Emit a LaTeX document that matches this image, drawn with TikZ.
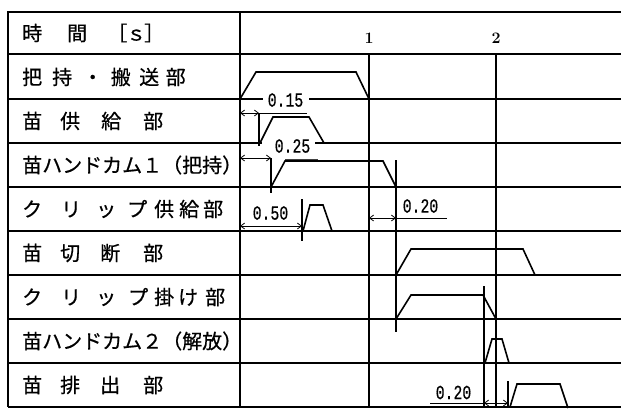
\documentclass[tikz,border=0pt]{standalone}
\usepackage{fontspec}
\newfontfamily\jp[FakeBold=0.6]{Noto Sans CJK JP}
\newfontfamily\numfont[FakeBold=0.5]{Liberation Mono}
\usetikzlibrary{arrows.meta}
\newcommand\condnum[1]{\scalebox{0.74}[1]{#1}}
\begin{document}
\begin{tikzpicture}[x=1pt,y=-1pt,
  grid/.style={line width=1.4pt},
  border/.style={line width=1.8pt},
  wave/.style={line width=1.6pt,line join=miter},
  dim/.style={line width=0.8pt},
  dimarrow/.style={dim,{Straight Barb[length=4pt,width=6pt]}-{Straight Barb[length=4pt,width=6pt]}},
  lbl/.style={anchor=west,inner sep=0pt,font=\jp\fontsize{20pt}{20pt}\selectfont},
  numlbl/.style={inner sep=0pt,font=\numfont\fontsize{20pt}{20pt}\selectfont},
  ticklbl/.style={inner sep=0pt,font=\bfseries\fontsize{16pt}{16pt}\selectfont}]
\useasboundingbox (0,0) rectangle (621,408);
\fill[white] (0,0) rectangle (621,408);
% table frame
\draw[border] (621,12) -- (8,12) -- (8,407);
\draw[border] (240,12) -- (240,407);
\draw[grid] (8,54) -- (621,54);
\draw[grid] (8,99) -- (263,99);
\draw[grid] (309,99) -- (621,99);
\draw[grid] (8,143) -- (262,143);
\draw[grid] (315,143) -- (621,143);
\foreach \yy in {187,231,275,319,363}{\draw[grid] (8,\yy) -- (621,\yy);}
\draw[grid] (8,407) -- (621,407);
% time lines
\draw[grid] (369,54) -- (369,407);
\draw[grid] (496,54) -- (496,407);
\node[ticklbl] (t1) at (369,38) {1};
\node[ticklbl] (t2) at (496,38) {2};
% labels
\node[lbl] (h0) at (22,33) {時\hspace{25pt}間\hspace{20pt}［\hspace{-1pt}ｓ\hspace{-2pt}］};
\node[lbl] (r1) at (22,77) {把\hspace{10pt}持\hspace{10.5pt}・\hspace{8pt}搬\hspace{8.5pt}送\hspace{6.5pt}部};
\node[lbl] (r2) at (22,121) {苗\hspace{18pt}供\hspace{21pt}給\hspace{22pt}部};
\node[lbl] (r3) at (22,165) {苗ハンドカム１（把持）};
\node[lbl] (r4) at (22,209) {ク\hspace{19pt}リ\hspace{15pt}ッ\hspace{11pt}プ\hspace{7pt}供\hspace{5pt}給\hspace{4pt}部};
\node[lbl] (r5) at (22,253) {苗\hspace{18pt}切\hspace{20pt}断\hspace{23pt}部};
\node[lbl] (r6) at (22,297) {ク\hspace{19pt}リ\hspace{15pt}ッ\hspace{12pt}プ\hspace{6pt}掛\hspace{4pt}け\hspace{7pt}部};
\node[lbl] (r7) at (22,341) {苗ハンドカム２（解放）};
\node[lbl] (r8) at (22,385) {苗\hspace{18pt}排\hspace{20pt}出\hspace{23pt}部};
% row 1
\draw[wave] (240,99) -- (256,72) -- (356,72) -- (369,99);
\node[numlbl] (d015) at (285.5,100) {\condnum{0.15}};
% row 2
\draw[dimarrow] (240,113) -- (259,113);
\draw[dim] (259,113) -- (307,113);
\draw[grid] (259,113) -- (259,146);
\draw[wave] (260,143) -- (273,117) -- (309,117) -- (324,143);
\node[numlbl] (d025) at (292.5,146) {\condnum{0.25}};
% row 3
\draw[dimarrow] (240,158) -- (271,158);
\draw[grid] (271,158) -- (271,193);
\draw[line width=2.2pt,black!75] (285,160.5) -- (318,160.5);
\draw[wave] (271,187) -- (285,161) -- (383,161) -- (396,187);
\draw[grid] (396,160) -- (396,332);
% row 4
\node[numlbl] (d050) at (270.5,213) {\condnum{0.50}};
\draw[dimarrow] (240,226) -- (302,226);
\draw[grid] (302,199) -- (302,241);
\draw[wave] (303,231) -- (310,205) -- (323,205) -- (332,231);
\node[numlbl] (d020a) at (420.5,206) {\condnum{0.20}};
\draw[dimarrow] (369,218) -- (396,218);
\draw[dim] (396,218) -- (447,218);
% row 5
\draw[wave] (396,275) -- (411,249) -- (523,249) -- (535,275);
% row 6
\draw[wave] (396,319) -- (411,295) -- (483,295) -- (496,319);
\draw[grid] (484,286) -- (484,408);
% row 7
\draw[wave] (485,363) -- (492,339) -- (502,339) -- (509,363);
% row 8
\draw[grid] (508,381) -- (508,408);
\draw[wave] (510,407) -- (517,384) -- (560,384) -- (568,408);
\node[numlbl] (d020b) at (453.5,392.5) {\condnum{0.20}};
\draw[dim] (430,403) -- (484,403);
\draw[dimarrow] (484,403) -- (508,403);
\end{tikzpicture}
\end{document}
